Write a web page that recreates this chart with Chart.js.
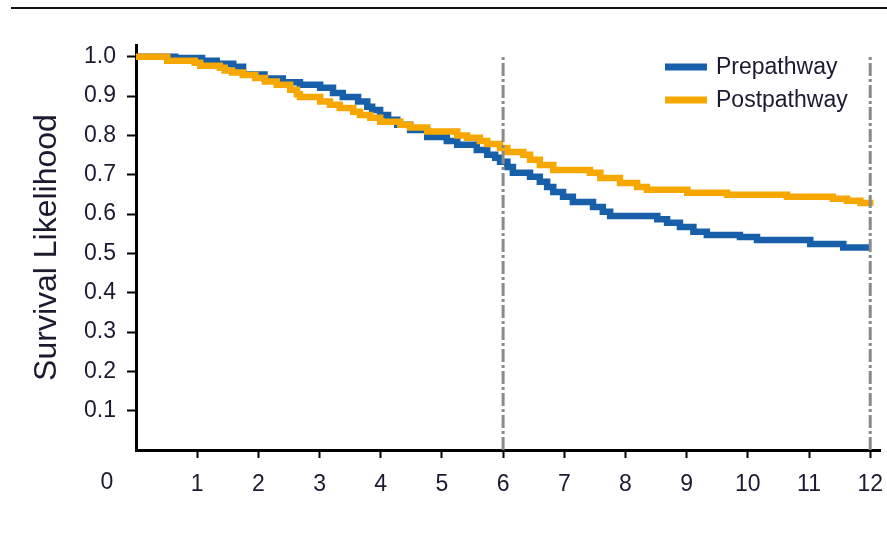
<html lang="en">
<head>
    <meta charset="UTF-8">
    <title>Survival Likelihood</title>
    <script src="https://cdn.jsdelivr.net/npm/chart.js"></script>
    <style>
        body { margin: 0; background: #fff; }
        #wrap { position: relative; width: 887px; height: 558px; }
        #rule { position: absolute; top: 7px; left: 11px; right: 0; height: 2px; background: #111; }
        canvas { position: absolute; top: 0; left: 0; }
    </style>
</head>
<body>
    <div id="wrap">
        <div id="rule"></div>
        <canvas id="survivalChart" width="887" height="558"></canvas>
    </div>

    <script>
        // Kaplan-Meier style curves, months on x, survival on y
        const seriesNames = ['Prepathway', 'Postpathway'];
        const preTimes = [0, 0.64, 1.08, 1.32, 1.59, 1.75, 2.1, 2.4, 2.68, 3.01, 3.22, 3.38, 3.63, 3.78, 3.86, 3.99, 4.12, 4.27, 4.48, 4.76, 5.08, 5.25, 5.57, 5.74, 5.87, 5.95, 6.07, 6.16, 6.44, 6.6, 6.72, 6.82, 6.98, 7.14, 7.47, 7.63, 7.75, 8.52, 8.68, 8.89, 9.11, 9.33, 9.87, 10.15, 11.02, 11.56, 12.0];
        const preSurv = [1.0, 0.997, 0.99, 0.982, 0.975, 0.955, 0.945, 0.935, 0.929, 0.921, 0.908, 0.898, 0.886, 0.873, 0.865, 0.852, 0.84, 0.827, 0.814, 0.796, 0.786, 0.776, 0.763, 0.751, 0.743, 0.733, 0.72, 0.705, 0.695, 0.682, 0.669, 0.656, 0.644, 0.631, 0.618, 0.606, 0.595, 0.587, 0.578, 0.567, 0.555, 0.547, 0.542, 0.534, 0.524, 0.515, 0.515];
        const postTimes = [0, 0.51, 0.96, 1.05, 1.37, 1.45, 1.57, 1.75, 1.95, 2.11, 2.3, 2.52, 2.63, 2.68, 3.01, 3.17, 3.33, 3.55, 3.66, 3.83, 3.99, 4.32, 4.48, 4.76, 5.25, 5.41, 5.62, 5.74, 5.95, 6.07, 6.33, 6.44, 6.6, 6.82, 7.42, 7.59, 7.91, 8.19, 8.35, 9.01, 9.66, 10.64, 11.39, 11.62, 11.84, 12.0];
        const postSurv = [1.0, 0.99, 0.985, 0.977, 0.972, 0.965, 0.96, 0.954, 0.946, 0.937, 0.929, 0.916, 0.905, 0.898, 0.886, 0.878, 0.87, 0.86, 0.852, 0.845, 0.835, 0.827, 0.82, 0.81, 0.80, 0.794, 0.786, 0.778, 0.768, 0.758, 0.751, 0.738, 0.725, 0.712, 0.705, 0.692, 0.679, 0.669, 0.662, 0.654, 0.649, 0.644, 0.639, 0.634, 0.628, 0.621, 0.621];
        const markerTimes = [6, 12];
        const yTicks = [0.1, 0.2, 0.3, 0.4, 0.5, 0.6, 0.7, 0.8, 0.9, 1.0];
        const xTicks = [0, 1, 2, 3, 4, 5, 6, 7, 8, 9, 10, 11, 12];

        const BLUE = '#1760a9';
        const ORANGE = '#f6a800';
        const GREY = '#8a8a8a';
        const TEXT = '#1a1a30';
        const FONT = "'Liberation Sans', Arial, sans-serif";

        function toPoints(xs, ys) {
            return xs.map((x, i) => ({ x: x, y: ys[i] }));
        }

        const markerSets = markerTimes.map(t => ({
            label: '',
            data: [{ x: t, y: 0 }, { x: t, y: 1.0 }],
            borderColor: GREY,
            borderWidth: 3,
            borderDash: [13, 3, 3, 3],
            pointRadius: 0,
            order: -1
        }));

        // legend drawn inside the plot, top right
        const legendPlugin = {
            id: 'innerLegend',
            afterDraw(chart) {
                const ctx = chart.ctx;
                const area = chart.chartArea;
                const x0 = area.right - 215;
                ctx.save();
                ctx.font = '23px ' + FONT;
                ctx.textBaseline = 'middle';
                chart.data.datasets.slice(0, 2).forEach((ds, i) => {
                    const y = area.top + 22 + i * 33;
                    ctx.fillStyle = ds.borderColor;
                    ctx.fillRect(x0, y - 3.5, 42, 7);
                    ctx.fillStyle = TEXT;
                    ctx.fillText(ds.label, x0 + 51, y + 1);
                });
                // origin label sits left of the axis corner
                const xs = chart.scales.x;
                ctx.fillStyle = TEXT;
                ctx.textAlign = 'center';
                ctx.fillText('0', xs.getPixelForValue(0) - 29, xs.top + 33);
                ctx.restore();
            }
        };

        const ctx = document.getElementById('survivalChart').getContext('2d');
        new Chart(ctx, {
            type: 'line',
            data: {
                datasets: [
                    {
                        label: seriesNames[0],
                        data: toPoints(preTimes, preSurv),
                        borderColor: BLUE,
                        backgroundColor: BLUE,
                        borderWidth: 6.5,
                        stepped: true,
                        pointRadius: 0,
                        borderJoinStyle: 'miter',
                        order: 1
                    },
                    {
                        label: seriesNames[1],
                        data: toPoints(postTimes, postSurv),
                        borderColor: ORANGE,
                        backgroundColor: ORANGE,
                        borderWidth: 6.5,
                        stepped: true,
                        pointRadius: 0,
                        borderJoinStyle: 'miter',
                        order: 0
                    },
                    ...markerSets
                ]
            },
            options: {
                responsive: false,
                animation: false,
                layout: { padding: { left: 0, top: 45, right: 7, bottom: 0 } },
                plugins: {
                    legend: { display: false },
                    tooltip: { enabled: false }
                },
                scales: {
                    x: {
                        type: 'linear',
                        min: 0,
                        max: 12.16,
                        afterFit(scale) {
                            scale.height = 108;
                            scale.paddingLeft = 0;
                            scale.paddingRight = 0;
                        },
                        afterBuildTicks(scale) { scale.ticks = xTicks.map(v => ({ value: v })); },
                        border: { display: true, color: '#000', width: 3 },
                        grid: {
                            drawOnChartArea: false,
                            drawTicks: true,
                            tickLength: 8,
                            tickWidth: 2,
                            tickColor: c => (c.tick && c.tick.value === 0) ? 'rgba(0,0,0,0)' : '#000'
                        },
                        ticks: {
                            autoSkip: false,
                            maxRotation: 0,
                            padding: 13,
                            color: TEXT,
                            font: { family: FONT, size: 23 },
                            callback: v => v === 0 ? '' : String(v)
                        }
                    },
                    y: {
                        type: 'linear',
                        min: 0,
                        max: 1.03,
                        afterFit(scale) { scale.width = 136; },
                        afterBuildTicks(scale) { scale.ticks = yTicks.map(v => ({ value: v })); },
                        border: { display: true, color: '#000', width: 3 },
                        grid: {
                            drawOnChartArea: false,
                            drawTicks: true,
                            tickLength: 9,
                            tickWidth: 2,
                            tickColor: '#000'
                        },
                        ticks: {
                            padding: 11,
                            color: TEXT,
                            font: { family: FONT, size: 23 },
                            callback: v => Number(v).toFixed(1)
                        },
                        title: {
                            display: true,
                            text: 'Survival Likelihood',
                            color: TEXT,
                            font: { family: FONT, size: 32 },
                            padding: { top: 28, bottom: 0 }
                        }
                    }
                }
            },
            plugins: [legendPlugin]
        });
    </script>
</body>
</html>
